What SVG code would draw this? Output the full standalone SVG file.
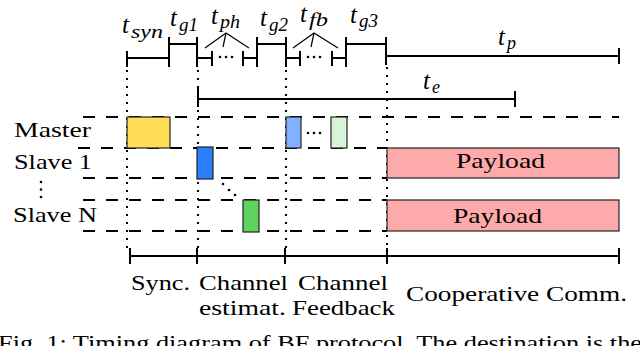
<svg xmlns="http://www.w3.org/2000/svg" width="640" height="346" viewBox="0 0 640 346">
<defs>
<style>
.bg{fill:#fff}
.tl{stroke:#000;stroke-width:2;fill:none}
.thin{stroke:#000;stroke-width:1.2;fill:none}
.dash{stroke:#000;stroke-width:2;stroke-dasharray:12 11;fill:none}
.dot{stroke:#000;stroke-width:2;stroke-dasharray:2 6;fill:none}
.box{stroke:#222;stroke-width:1.2}
.lbl{font-family:"Liberation Serif","DejaVu Serif",serif;font-size:22px;fill:#000}
.m{font-family:"Liberation Serif","DejaVu Serif",serif;font-style:italic;font-size:25px;fill:#000}
.s{font-family:"Liberation Serif","DejaVu Serif",serif;font-style:italic;font-size:18px;fill:#000}
.pt{fill:#000}
</style>
</defs>
<rect class="bg" x="0" y="0" width="640" height="346"/>

<g id="connectors">
  <path class="tl" d="M127 51V67M127 58H169M169 37V67M169 44H197M197 37V67M197 58H212M212 51V66M243 51V66M243 58H257M257 37V67M257 44H286M286 37V67M286 58H300M300 51V66M332 51V66M332 58H346M346 37V67M346 44H386M386 37V65M386 56H619M619 48V64"/>
  <path class="thin" d="M205 48L226 33L249 48M226 33L223 47M293 48L314 33L338 48M314 33L311 47"/>
  <path class="tl" d="M198 88V107M198 99H515M515 91V107"/>
  <path class="dot" d="M127 70V252M198 70V252M286 70V252M387 67V252"/>
  <path class="dash" d="M83 117H619M78 148H387M83 178H387M83 200H387M83 231H387"/>
  <path class="tl" d="M130 248V264M130 256H619M197 248V264M285 248V264M387 248V264M619 248V264"/>
</g>

<g id="timeline-dots">
  <circle class="pt" cx="220" cy="57" r="1.3"/><circle class="pt" cx="226" cy="57" r="1.3"/><circle class="pt" cx="232" cy="57" r="1.3"/>
  <circle class="pt" cx="308" cy="57" r="1.3"/><circle class="pt" cx="314" cy="57" r="1.3"/><circle class="pt" cx="320" cy="57" r="1.3"/>
</g>

<g id="time-labels">
  <text class="m" x="122" y="33">t</text><text class="s" x="131" y="38" textLength="32" lengthAdjust="spacingAndGlyphs">syn</text>
  <text class="m" x="170" y="26">t</text><text class="s" x="179" y="31" textLength="19" lengthAdjust="spacingAndGlyphs">g1</text>
  <text class="m" x="211" y="24">t</text><text class="s" x="220" y="28" textLength="20" lengthAdjust="spacingAndGlyphs">ph</text>
  <text class="m" x="260" y="26">t</text><text class="s" x="269" y="31" textLength="19" lengthAdjust="spacingAndGlyphs">g2</text>
  <text class="m" x="300" y="22">t</text><text class="s" x="309" y="26" textLength="19" lengthAdjust="spacingAndGlyphs">fb</text>
  <text class="m" x="350" y="23">t</text><text class="s" x="359" y="27" textLength="19" lengthAdjust="spacingAndGlyphs">g3</text>
  <text class="m" x="498" y="45">t</text><text class="s" x="507" y="49">p</text>
  <text class="m" x="423" y="89">t</text><text class="s" x="432" y="93">e</text>
</g>

<g id="row-labels">
  <text class="lbl" x="14" y="137" textLength="77" lengthAdjust="spacingAndGlyphs">Master</text>
  <text class="lbl" x="14" y="169" textLength="78" lengthAdjust="spacingAndGlyphs">Slave 1</text>
  <circle class="pt" cx="41" cy="182" r="1.3"/><circle class="pt" cx="41" cy="189.5" r="1.3"/><circle class="pt" cx="41" cy="197" r="1.3"/>
  <text class="lbl" x="13" y="222" textLength="84" lengthAdjust="spacingAndGlyphs">Slave N</text>
</g>

<g id="sync-box"><rect class="box" x="127" y="117" width="43" height="31" fill="#ffdd55"/></g>
<g id="master-est"><rect class="box" x="286" y="117" width="15" height="31" fill="#80b3ff"/></g>
<g id="master-dots"><circle class="pt" cx="308" cy="133" r="1.3"/><circle class="pt" cx="314" cy="133" r="1.3"/><circle class="pt" cx="320" cy="133" r="1.3"/></g>
<g id="master-fb"><rect class="box" x="331" y="117" width="16" height="31" fill="#d7f4d7"/></g>
<g id="slave1-est"><rect class="box" x="197" y="147" width="16" height="32" fill="#2a7fff"/></g>
<g id="diag-dots"><circle class="pt" cx="223" cy="184" r="1.3"/><circle class="pt" cx="229" cy="190" r="1.3"/><circle class="pt" cx="235" cy="195" r="1.3"/></g>
<g id="slaveN-est"><rect class="box" x="243" y="200" width="16" height="32" fill="#5fd35f"/></g>

<g id="payload1">
  <rect class="box" x="387" y="148" width="232" height="30" fill="#ffaaaa"/>
  <text class="lbl" x="456" y="168" textLength="89" lengthAdjust="spacingAndGlyphs">Payload</text>
</g>
<g id="payloadN">
  <rect class="box" x="387" y="200" width="232" height="31" fill="#ffaaaa"/>
  <text class="lbl" x="453" y="223" textLength="89" lengthAdjust="spacingAndGlyphs">Payload</text>
</g>

<g id="phase-labels">
  <text class="lbl" x="131" y="290" textLength="59" lengthAdjust="spacingAndGlyphs">Sync.</text>
  <text class="lbl" x="199" y="290" textLength="89" lengthAdjust="spacingAndGlyphs">Channel</text>
  <text class="lbl" x="298" y="290" textLength="90" lengthAdjust="spacingAndGlyphs">Channel</text>
  <text class="lbl" x="199" y="315" textLength="87" lengthAdjust="spacingAndGlyphs">estimat.</text>
  <text class="lbl" x="292" y="315" textLength="103" lengthAdjust="spacingAndGlyphs">Feedback</text>
  <text class="lbl" x="406" y="301" textLength="221" lengthAdjust="spacingAndGlyphs">Cooperative Comm.</text>
</g>

<g id="caption">
  <text class="lbl" x="-2" y="350" textLength="644" lengthAdjust="spacingAndGlyphs">Fig. 1: Timing diagram of BF protocol. The destination is the</text>
</g>
</svg>
